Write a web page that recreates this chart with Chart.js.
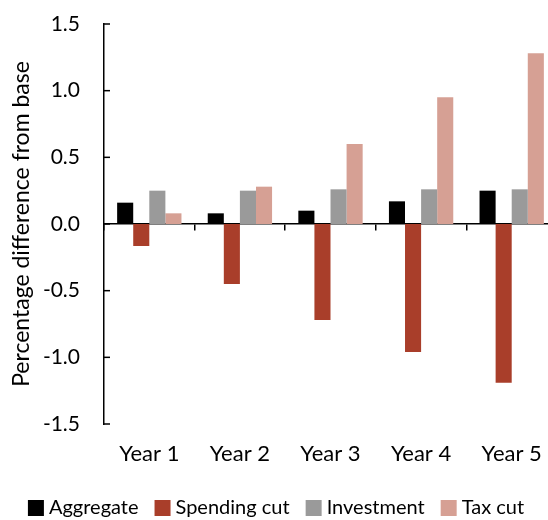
<!DOCTYPE html>
<html>
<head>
<meta charset="utf-8">
<script src="https://cdn.jsdelivr.net/npm/chart.js@4.4.1/dist/chart.umd.min.js"></script>
<style>
  html, body { margin: 0; padding: 0; background: #fff; overflow: hidden; width: 548px; height: 520px; }
</style>
</head>
<body>
<canvas id="effects_chart" width="560" height="520"></canvas>
<script>
var years = ['Year 1', 'Year 2', 'Year 3', 'Year 4', 'Year 5'];
var aggregate = [0.16, 0.08, 0.10, 0.17, 0.25];
var spending_cut = [-0.165, -0.45, -0.72, -0.96, -1.19];
var investment = [0.25, 0.25, 0.26, 0.26, 0.26];
var tax_cut = [0.08, 0.28, 0.60, 0.95, 1.28];
var y_ticks = [-1.5, -1.0, -0.5, 0.0, 0.5, 1.0, 1.5];

var font_name = 'Lato, "Open Sans", sans-serif';

// small inward tick marks on the y axis
var inward_ticks = {
  id: 'inward_ticks',
  afterDraw: function (chart) {
    var ctx = chart.ctx;
    var y = chart.scales.y;
    ctx.save();
    ctx.strokeStyle = '#000';
    ctx.lineWidth = 1.5;
    y_ticks.forEach(function (v) {
      var py = y.getPixelForValue(v);
      ctx.beginPath();
      ctx.moveTo(y.right, py);
      ctx.lineTo(y.right + 6, py);
      ctx.stroke();
    });
    ctx.restore();
  }
};

function make_dataset(label, values, colour) {
  return {
    label: label,
    data: values,
    backgroundColor: colour,
    borderWidth: 0,
    categoryPercentage: 0.71,
    barPercentage: 1.0
  };
}

window.onload = function ()
{
  var ctx = document.getElementById('effects_chart').getContext('2d');
  new Chart(ctx, {
    type: 'bar',
    data: {
      labels: years,
      datasets: [
        make_dataset('Aggregate', aggregate, '#000000'),
        make_dataset('Spending cut', spending_cut, '#A93E2A'),
        make_dataset('Investment', investment, '#9A9A9A'),
        make_dataset('Tax cut', tax_cut, '#D6A094')
      ]
    },
    options: {
      responsive: false,
      animation: false,
      devicePixelRatio: 1,
      layout: { padding: { top: 24, right: 3, bottom: -8, left: 0 } },
      plugins: {
        tooltip: { enabled: false },
        legend: {
          position: 'bottom',
          labels: {
            usePointStyle: true,
            pointStyle: 'rect',
            boxWidth: 6,
            boxHeight: 16,
            padding: 21,
            color: '#000',
            font: { family: font_name, size: 20 }
          }
        }
      },
      scales: {
        x: {
          grid: { display: false, drawTicks: false },
          border: { display: false },
          ticks: { color: '#000', padding: 17, font: { family: font_name, size: 22 } },
          afterFit: function (axis) { axis.height = 53; }
        },
        zero_axis: {
          type: 'category',
          axis: 'x',
          labels: years,
          position: { y: 0 },
          offset: true,
          grid: { offset: true, drawOnChartArea: false, drawTicks: true, tickLength: 6, color: '#000', lineWidth: 1.5 },
          border: { display: true, color: '#000', width: 1.5 },
          ticks: { display: false }
        },
        y: {
          min: -1.5,
          max: 1.5,
          grid: { display: false, drawTicks: false },
          border: { display: true, color: '#000', width: 1.5 },
          afterBuildTicks: function (axis) {
            axis.ticks = y_ticks.map(function (v) { return { value: v }; });
          },
          afterFit: function (axis) {
            axis.width = 104;
            axis.paddingTop = 10;
            axis.paddingBottom = 10;
          },
          ticks: {
            color: '#000',
            padding: 24,
            font: { family: font_name, size: 21 },
            callback: function (v) { return Number(v).toFixed(1); }
          },
          title: {
            display: true,
            text: 'Percentage difference from base',
            color: '#000',
            padding: { top: 8, bottom: 15 },
            font: { family: font_name, size: 23 }
          }
        }
      }
    },
    plugins: [inward_ticks]
  });
};
</script>
</body>
</html>
